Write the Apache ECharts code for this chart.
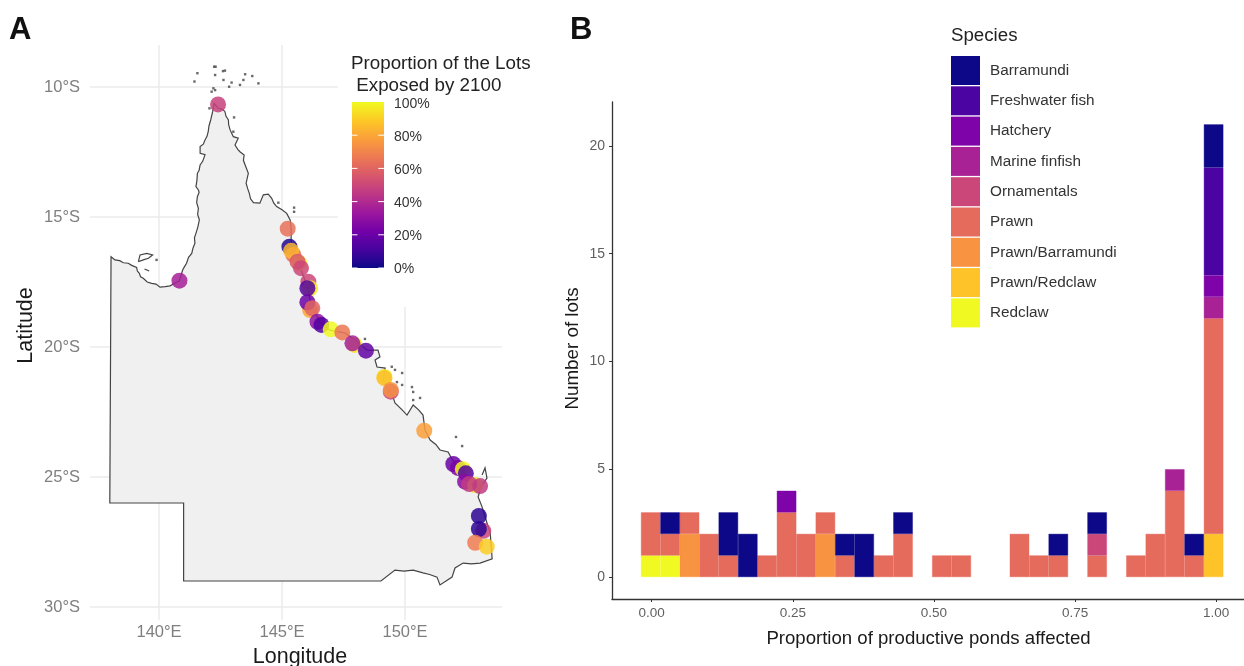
<!DOCTYPE html>
<html>
<head>
<meta charset="utf-8">
<style>html,body{margin:0;padding:0;background:#fff}#c{width:1244px;height:666px}</style>
<script src="https://cdn.jsdelivr.net/npm/echarts@6/dist/echarts.min.js"></script>
</head>
<body>
<div id="c"></div>
<script>
// ---------- Panel A data (longitude E, latitude S) ----------
const coastline = [
[138.05,16.53],[138.21,16.65],[138.4,16.68],[138.55,16.76],[138.75,16.78],[138.89,16.86],[139.09,16.94],[139.12,17.08],[139.2,17.17],[139.25,17.3],[139.36,17.36],[139.52,17.5],[139.7,17.55],[139.88,17.58],[140.04,17.7],[140.25,17.68],[140.45,17.65],
[140.83,17.45],[140.96,17.04],[141.03,16.92],[141.12,16.78],[141.2,16.55],[141.33,16.4],[141.38,16.2],[141.46,16.01],[141.44,15.8],[141.5,15.63],[141.58,15.38],[141.64,15.11],[141.57,14.9],[141.6,14.67],[141.53,14.45],[141.56,14.22],[141.63,14.05],[141.6,13.96],
[141.5,13.83],[141.54,13.6],[141.56,13.32],[141.63,13.2],[141.67,13.0],[141.78,12.85],[141.87,12.6],[141.67,12.55],[141.67,12.29],[141.8,12.2],[141.87,12.04],[141.95,11.9],[142.0,11.72],[142.03,11.5],[142.1,11.27],[142.18,10.95],
[142.24,10.63],[142.41,10.82],[142.6,10.87],[142.68,10.95],[142.72,11.12],[142.82,11.27],[142.83,11.45],[142.89,11.65],[143.02,11.91],[143.22,11.97],[143.09,12.23],[143.2,12.4],[143.29,12.49],[143.46,12.62],
[143.43,12.82],[143.5,13.0],[143.63,13.32],[143.54,13.7],[143.6,13.9],[143.67,14.09],[143.72,14.3],[143.84,14.45],[144.1,14.47],[144.24,14.15],[144.44,14.12],[144.58,14.28],[144.66,14.46],[144.78,14.6],
[145.0,14.72],[145.19,14.86],[145.33,15.11],[145.37,15.44],[145.37,15.88],[145.45,16.58],[145.73,16.92],[145.93,17.42],[146.06,17.81],[146.14,18.19],[146.34,18.65],
[146.54,19.04],[146.95,19.35],[147.56,19.46],[147.97,19.73],[148.46,20.12],[148.9,20.12],[148.98,20.38],[148.78,20.5],[148.86,20.77],[149.19,20.81],
[149.11,21.27],[149.51,21.92],[149.59,22.15],[149.88,22.42],[150.08,22.62],[150.33,22.23],[150.55,22.42],[150.73,22.62],[150.81,23.19],[151.02,23.58],[151.25,23.75],[151.42,23.96],
[151.75,24.04],[151.9,24.3],[152.11,24.54],[152.4,24.85],[152.64,25.12],[153.05,25.5],[152.97,25.77],[153.13,26.15],[153.33,26.77],[153.46,27.15],[153.54,28.15],[153.05,28.31],
[152.7,28.34],[152.36,28.31],[152.03,28.5],[151.91,28.85],[151.42,29.15],[151.3,28.85],[151.0,28.75],[150.73,28.69],[150.33,28.58],[149.95,28.62],[149.59,28.58],[149.02,29],[141,29],[141,26],[138,26]
];
const morningtonIsland = [[139.16,16.72],[139.23,16.46],[139.5,16.4],[139.74,16.46],[139.57,16.59],[139.36,16.65],[139.16,16.72]];
const bentinckIsland = [[139.41,17.0],[139.6,17.08]];
const fraserIsland = [[153.05,25.42],[153.33,25.04],[153.25,24.65],[153.13,24.92]];
const smallIslands = [
[142.24,9.22],[142.3,9.22],[142.68,9.37],[142.6,9.39],[141.56,9.47],[141.44,9.79],[142.28,9.54],[142.62,9.73],[142.95,9.83],[142.85,9.99],
[143.5,9.51],[143.43,9.73],[143.29,9.92],[143.79,9.58],[144.04,9.86],[142.21,10.05],[142.14,10.18],[142.28,10.12],[142.05,10.82],[143.05,11.17],
[143.02,11.72],[144.85,14.45],[145.49,14.64],[145.49,14.8],[139.9,16.65],[149.46,20.76],[149.59,20.88],[149.88,21.0],[149.67,21.35],[149.88,21.46],
[150.28,21.54],[150.33,21.73],[150.61,21.96],[150.33,22.04],[148.37,19.69],[152.07,23.46],[152.32,23.81]
];
const lotLon = [142.4,140.83,145.23,145.3,145.46,145.37,145.7,145.63,145.77,146.07,146.14,146.03,146.14,146.03,146.23,146.44,146.6,146.98,147.45,147.95,147.86,148.41,149.16,149.16,149.42,149.42,150.78,151.96,152.15,152.35,152.47,152.44,152.85,152.61,153.05,153.0,153.18,153.0,152.85,153.32];
const lotLat = [10.67,17.45,15.45,16.14,16.46,16.3,16.78,16.72,16.97,17.49,17.74,17.74,18.58,18.28,18.51,19.03,19.15,19.32,19.44,19.92,19.86,20.14,21.15,21.2,21.72,21.65,23.22,24.5,24.65,24.7,24.86,25.18,25.31,25.27,25.35,26.5,27.07,27.0,27.53,27.68];
const lotExposure = [48,36,64,4,64,84,100,56,50,50,96,14,80,20,60,30,14,100,66,96,36,18,96,86,50,74,78,20,24,100,14,28,96,46,46,6,50,6,68,90];
const plasmaRamp = ['#0D0887','#47039F','#7301A8','#9C179E','#BD3786','#D8576B','#ED7953','#FA9E3B','#FDC926','#F0F921'];
const lonTicks = [140,145,150];
const latTicks = [10,15,20,25,30];
const exposureTicks = [0,20,40,60,80,100];
const exposureNotches = [0,20,40,60,80];

// ---------- Panel B data ----------
const species = ['Barramundi','Freshwater fish','Hatchery','Marine finfish','Ornamentals','Prawn','Prawn/Barramundi','Prawn/Redclaw','Redclaw'];
const speciesColors = ['#0D0887','#4B03A1','#7E03A8','#A82296','#CB4679','#E56B5D','#F89441','#FDC328','#F0F921'];
const binCenters = ['0.00','0.03','0.07','0.10','0.14','0.17','0.21','0.24','0.28','0.31','0.34','0.38','0.41','0.45','0.48','0.52','0.55','0.59','0.62','0.66','0.69','0.72','0.76','0.79','0.83','0.86','0.90','0.93','0.97','1.00'];
const barramundi    = [0,1,0,0,2,2,0,0,0,0,1,2,0,1,0,0,0,0,0,0,0,1,0,1,0,0,0,0,1,2];
const freshwater    = [0,0,0,0,0,0,0,0,0,0,0,0,0,0,0,0,0,0,0,0,0,0,0,0,0,0,0,0,0,5];
const hatchery      = [0,0,0,0,0,0,0,1,0,0,0,0,0,0,0,0,0,0,0,0,0,0,0,0,0,0,0,0,0,1];
const marineFinfish = [0,0,0,0,0,0,0,0,0,0,0,0,0,0,0,0,0,0,0,0,0,0,0,0,0,0,0,1,0,1];
const ornamentals   = [0,0,0,0,0,0,0,0,0,0,0,0,0,0,0,0,0,0,0,0,0,0,0,1,0,0,0,0,0,0];
const prawn         = [2,1,1,2,1,0,1,3,2,1,1,0,1,2,0,1,1,0,0,2,1,1,0,1,0,1,2,4,1,10];
const prawnBarra    = [0,0,2,0,0,0,0,0,0,2,0,0,0,0,0,0,0,0,0,0,0,0,0,0,0,0,0,0,0,0];
const prawnRedclaw  = [0,0,0,0,0,0,0,0,0,0,0,0,0,0,0,0,0,0,0,0,0,0,0,0,0,0,0,0,0,2];
const redclaw       = [1,1,0,0,0,0,0,0,0,0,0,0,0,0,0,0,0,0,0,0,0,0,0,0,0,0,0,0,0,0];
const speciesCounts = [barramundi,freshwater,hatchery,marineFinfish,ornamentals,prawn,prawnBarra,prawnRedclaw,redclaw];
const propTicks = [0,0.25,0.5,0.75,1];
const countTicks = [0,5,10,15,20];

const FONT = '"Liberation Sans", Arial, sans-serif';
const chart = echarts.init(document.getElementById('c'), null, {renderer:'canvas'});

const stackSeries = species.map((name,i)=>({i,name})).reverse().map(({i,name})=>({
  type:'bar', name, stack:'lots', xAxisIndex:3, yAxisIndex:4, barWidth:'100%', barCategoryGap:0, silent:true,
  itemStyle:{color:speciesColors[i], borderColor:speciesColors[i], borderWidth:0.4},
  data: speciesCounts[i].map(v=>v>0?v:null)
}));

function coastRender(params, api){
  if(params.dataIndex!==0) return null;
  const pts = a => a.map(p=>api.coord(p));
  const line = {stroke:'#444', lineWidth:1.2, fill:null};
  return {type:'group', children:[
    {type:'polygon', shape:{points:pts(coastline)}, style:{fill:'#f0f0f0', stroke:'#444', lineWidth:1.2}},
    {type:'polyline', shape:{points:pts(morningtonIsland)}, style:line},
    {type:'polyline', shape:{points:pts(bentinckIsland)}, style:line},
    {type:'polyline', shape:{points:pts(fraserIsland)}, style:line}
  ]};
}
// white ggplot-style notches on both sides of the colour bar
function barTickRender(params, api){
  const v = api.value(0);
  const seg = (a,b) => ({type:'line', shape:{x1:api.coord([a,v])[0], y1:api.coord([a,v])[1], x2:api.coord([b,v])[0], y2:api.coord([b,v])[1]}, style:{stroke:'#fff', lineWidth:1}});
  return {type:'group', children:[seg(0,0.17), seg(0.82,1)]};
}

chart.setOption({
  animation:false,
  textStyle:{fontFamily:FONT},
  grid:[
    {left:90, top:45, width:412, height:575, outerBoundsMode:'none'},
    {left:612, top:102, width:633, height:497, outerBoundsMode:'none'},
    {left:352, top:102, width:32, height:166, outerBoundsMode:'none'},
    {left:641, top:102, width:582.3, height:497, outerBoundsMode:'none'},
    {left:352, top:104, width:32, height:165, outerBoundsMode:'none'}
  ],
  xAxis:[
    {type:'value', gridIndex:0, min:137.195, max:153.94,
     name:'Longitude', nameLocation:'middle', nameGap:26,
     nameTextStyle:{fontSize:21.5,color:'#1a1a1a',padding:[0,0,0,8]},
     axisLine:{show:false}, axisTick:{show:false, customValues:lonTicks},
     axisLabel:{customValues:lonTicks, formatter:v=>v+'°E', color:'#7f7f7f', fontSize:16.5, margin:4},
     splitLine:{show:true, lineStyle:{color:'#ebebeb', width:1.5}}},
    {type:'value', gridIndex:1, min:-0.0703, max:1.051,
     name:'Proportion of productive ponds affected', nameLocation:'middle', nameGap:30,
     nameTextStyle:{fontSize:18.6,color:'#1a1a1a'},
     axisLine:{show:true, onZero:false, lineStyle:{color:'#333', width:1.3}},
     axisTick:{show:true, customValues:propTicks, length:3, lineStyle:{color:'#333'}},
     axisLabel:{customValues:propTicks, formatter:v=>v.toFixed(2), color:'#5f5f5f', fontSize:13.5, margin:7},
     splitLine:{show:false}},
    {type:'value', gridIndex:2, show:false, min:0, max:1},
    {type:'category', gridIndex:3, show:false, data:binCenters, boundaryGap:true},
    {type:'value', gridIndex:4, show:false, min:0, max:1}
  ],
  yAxis:[
    {type:'value', gridIndex:0, inverse:true, min:8.385, max:30.5,
     name:'Latitude', nameLocation:'middle', nameGap:53, nameRotate:90,
     nameTextStyle:{fontSize:21.5,color:'#1a1a1a',padding:[0,0,0,14]},
     axisLine:{show:false}, axisTick:{show:false, customValues:latTicks},
     axisLabel:{customValues:latTicks, formatter:v=>v+'°S', color:'#7f7f7f', fontSize:16.5, margin:10},
     splitLine:{show:true, lineStyle:{color:'#ebebeb', width:1.5}}},
    {type:'value', gridIndex:1, min:-1.02, max:22.04,
     name:'Number of lots', nameLocation:'middle', nameGap:30, nameRotate:90, nameMoveOverlap:false,
     nameTextStyle:{fontSize:18.8,color:'#1a1a1a',padding:[0,0,0,4]},
     axisLine:{show:true, onZero:false, lineStyle:{color:'#333', width:1.3}},
     axisTick:{show:true, customValues:countTicks, length:3, lineStyle:{color:'#333'}},
     axisLabel:{customValues:countTicks, color:'#5f5f5f', fontSize:14, margin:7},
     splitLine:{show:false}},
    {type:'value', gridIndex:2, show:false, min:0, max:100},
    {type:'value', gridIndex:4, position:'right', min:0, max:100, z:10,
     axisLine:{show:false}, axisTick:{show:false, customValues:exposureTicks},
     axisLabel:{customValues:exposureTicks, formatter:v=>v+'%', color:'#333', fontSize:14, margin:10},
     splitLine:{show:false}},
    {type:'value', gridIndex:3, show:false, min:-1.02, max:22.04}
  ],
  legend:{
    show:true, orient:'vertical', left:951, top:56, padding:0, icon:'rect',
    itemWidth:29, itemHeight:29, itemGap:1.3, selectedMode:false,
    itemStyle:{borderWidth:0},
    data:species, textStyle:{color:'#333', fontSize:15.3, padding:[0,0,0,5]}
  },
  visualMap:{
    show:false, type:'continuous', seriesIndex:2, dimension:2, min:0, max:100,
    inRange:{color:plasmaRamp}
  },
  graphic:[
    {type:'rect', z:1, silent:true, shape:{x:338,y:40,width:206,height:267}, style:{fill:'#fff'}},
    {type:'rect', z:3, silent:true, shape:{x:352,y:102,width:32,height:166}, style:{
      fill:new echarts.graphic.LinearGradient(0,1,0,0, plasmaRamp.map((c,i)=>({offset:i/(plasmaRamp.length-1), color:c})))}},
    {type:'text', z:5, left:351, top:53, silent:true, style:{text:'Proportion of the Lots\n Exposed by 2100', fontFamily:FONT, fontSize:18.8, lineHeight:22, fill:'#222'}},
    {type:'text', z:5, left:951, top:26, silent:true, style:{text:'Species', fontFamily:FONT, fontSize:18.7, fill:'#222'}},
    {type:'text', z:5, left:9, top:15, silent:true, style:{text:'A', fontFamily:FONT, fontSize:31, fontWeight:'bold', fill:'#111'}},
    {type:'text', z:5, left:570, top:15, silent:true, style:{text:'B', fontFamily:FONT, fontSize:31, fontWeight:'bold', fill:'#111'}}
  ],
  series:[
    {type:'custom', xAxisIndex:0, yAxisIndex:0, silent:true, z:2, clip:false, renderItem:coastRender,
     encode:{x:0,y:1}, data:coastline},
    {type:'scatter', xAxisIndex:0, yAxisIndex:0, silent:true, z:3, symbol:'rect', symbolSize:2.4,
     itemStyle:{color:'#444'}, data:smallIslands},
    {type:'scatter', xAxisIndex:0, yAxisIndex:0, silent:true, z:4, symbolSize:16,
     itemStyle:{opacity:0.85},
     data:lotLon.map((x,i)=>[x,lotLat[i],lotExposure[i]])},
    {type:'custom', xAxisIndex:2, yAxisIndex:2, silent:true, z:6, clip:false, renderItem:barTickRender,
     encode:{y:0}, data:exposureNotches.map(v=>[v])},
    ...stackSeries
  ]
});
</script>
</body>
</html>
